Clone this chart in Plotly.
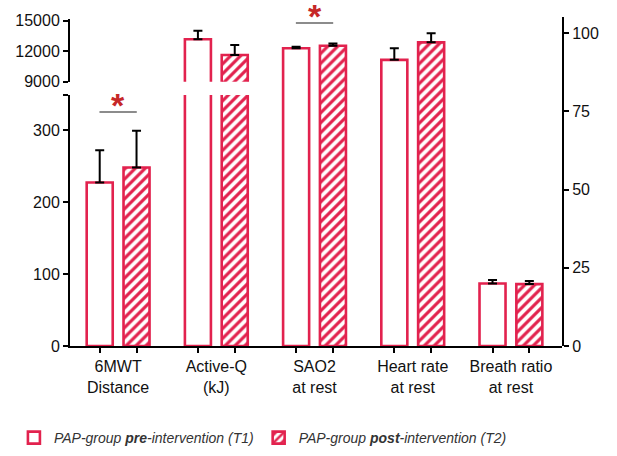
import plotly.graph_objects as go

categories = ["6MWT<br>Distance", "Active-Q<br>(kJ)", "SAO2<br>at rest",
              "Heart rate<br>at rest", "Breath ratio<br>at rest"]
t1_mean = [227, 13170, 95.2, 91.5, 20.0]
t2_mean = [248, 11625, 96.0, 97.1, 19.8]
t1_err = [45, 850, 0.5, 3.7, 1.1]
t2_err = [51, 985, 0.7, 2.9, 1.0]

left_low_ticks = [0, 100, 200, 300]
left_high_ticks = [9000, 12000, 15000]
right_ticks = [0, 25, 50, 75, 100]

C = "#E2224E"
FONT = "Arial, Liberation Sans, sans-serif"
W, OFF1, OFF2 = 0.265, -0.3200, 0.0550
centers = [OFF1 + W / 2, OFF2 + W / 2]

fig = go.Figure()


def bar(xs, ys, errs, yaxis, name, patterned, showlegend, rank):
    marker = dict(color="white", line=dict(color=C, width=2.6))
    if patterned:
        marker["pattern"] = dict(shape="/", fgcolor=C, bgcolor="white", size=7,
                                 solidity=0.45, fgopacity=1)
    err = None
    if errs is not None:
        err = dict(type="data", array=errs, arrayminus=[0] * len(errs), symmetric=False,
                   color="black", thickness=2, width=4.5)
    fig.add_trace(go.Bar(
        x=xs, y=ys, error_y=err, yaxis=yaxis, xaxis="x",
        width=[W] * len(xs), offset=[OFF2 if patterned else OFF1] * len(xs),
        marker=marker, name=name, showlegend=showlegend, legendgroup=name,
        legendrank=rank, hoverinfo="skip"))


groups = [
    ("<i>PAP-group <b>pre</b>-intervention (T1)</i>", t1_mean, t1_err, False, 1),
    ("<i>PAP-group <b>post</b>-intervention (T2)</i>", t2_mean, t2_err, True, 2),
]
for name, means, errs, pat, rank in groups:
    # 6MWT on lower-left axis
    bar([0], [means[0]], [errs[0]], "y", name, pat, True, rank)
    # Active-Q: lower broken part (no error) + upper part
    bar([1], [means[1]], None, "y", name, pat, False, rank)
    bar([1], [means[1]], [errs[1]], "y2", name, pat, False, rank)
    # right-axis variables
    bar([2, 3, 4], means[2:], errs[2:], "y3", name, pat, False, rank)

axis_common = dict(showline=True, linecolor="black", linewidth=2, ticks="outside",
                   ticklen=5, tickwidth=2, tickcolor="black", showgrid=False,
                   zeroline=False, automargin=False,
                   tickfont=dict(family=FONT, size=16, color="#111"))

fig.update_layout(
    template="none",
    width=617, height=456,
    margin=dict(l=70, r=55, t=17, b=110, autoexpand=False),
    paper_bgcolor="white", plot_bgcolor="rgba(0,0,0,0)",
    barmode="overlay",
    xaxis=dict(domain=[0, 1], range=[-0.49, 4.52], tickmode="array",
               tickvals=list(range(len(categories))), ticktext=categories,
               showline=True, linecolor="black", linewidth=2,
               ticks="outside", ticklen=5, tickcolor="rgba(0,0,0,0)",
               minor=dict(tickmode="array",
                          tickvals=[i + c for i in range(len(categories)) for c in centers],
                          ticks="outside", ticklen=5, tickwidth=2, tickcolor="black",
                          showgrid=False),
               showgrid=False, zeroline=False, anchor="y", automargin=False,
               tickfont=dict(family=FONT, size=16, color="#111")),
    yaxis=dict(domain=[0, 0.7629], range=[0, 348.6], anchor="x",
               tickmode="array", tickvals=left_low_ticks + [348.4],
               ticktext=[str(v) for v in left_low_ticks] + [""], **axis_common),
    yaxis2=dict(domain=[0.8033, 0.9954], range=[9000, 15217], anchor="x",
                tickmode="array", tickvals=left_high_ticks,
                ticktext=[str(v) for v in left_high_ticks], **axis_common),
    yaxis3=dict(domain=[0, 1], range=[0, 105.2], anchor="x", side="right",
                tickmode="array", tickvals=right_ticks,
                ticktext=[str(v) for v in right_ticks], **axis_common),
    legend=dict(orientation="h", x=-0.114, xanchor="left", y=-0.2796, yanchor="middle",
                font=dict(family=FONT, size=14, color="#333"), bgcolor="rgba(0,0,0,0)",
                traceorder="normal"),
    showlegend=True,
)

# significance markers
for xi, yv, yref in [(0, 325, "y"), (2, 103.3, "y3")]:
    fig.add_shape(type="line", xref="x", yref=yref, x0=xi - 0.19, x1=xi + 0.19,
                  y0=yv, y1=yv, line=dict(color="#666", width=1.5))
    fig.add_annotation(x=xi, y=yv, xref="x", yref=yref, text="<b>*</b>", showarrow=False,
                       yanchor="middle", yshift=7,
                       font=dict(family=FONT, size=34, color="#C62828"))

# remove the browser's default 8px body margin so the figure fills the window
fig.write_html("out.html", config={"displayModeBar": False},
               post_script="document.body.style.margin='0';")
